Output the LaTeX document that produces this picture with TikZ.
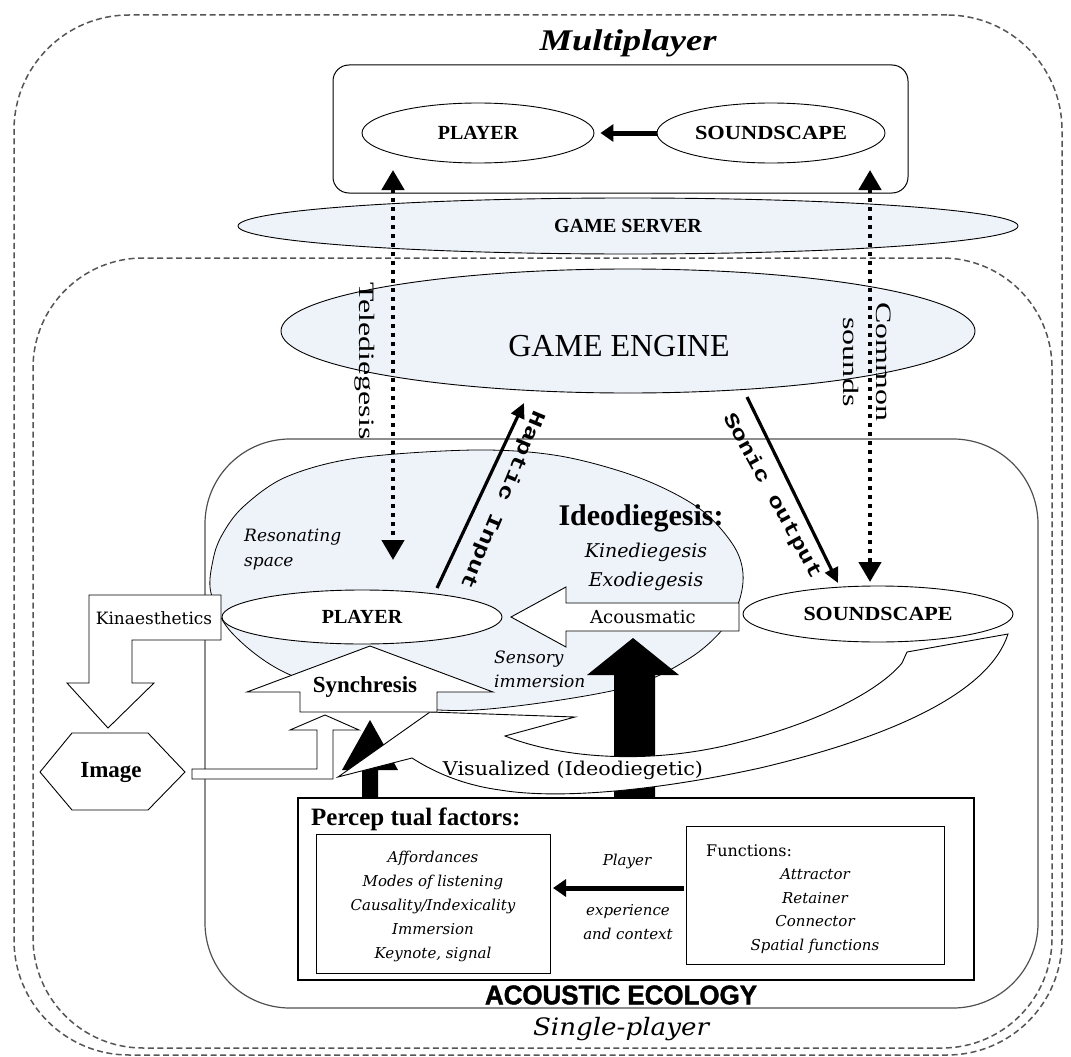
\documentclass[tikz,border=0pt]{standalone}
\usepackage{fontspec}
\usepackage{graphicx}
\setmainfont{Liberation Serif}
\newfontfamily\dvs{DejaVu Serif}
\newfontfamily\lmono{Liberation Mono}
\newfontfamily\lsans{Liberation Sans}[BoldFeatures={FakeBold=1.6}]
\usetikzlibrary{arrows.meta,shapes.geometric}
\definecolor{paleblue}{RGB}{238,243,250}
\definecolor{dashgray}{RGB}{85,85,85}
\definecolor{boxgray}{RGB}{80,80,80}
\newcommand\fsz[2]{\fontsize{#1}{#2}\selectfont}
\newcommand\hstretch[2]{\resizebox{#1}{\height}{#2}}
\begin{document}
\begin{tikzpicture}[x=1pt,y=-1pt,
  dashbox/.style={draw=dashgray,line width=1.5pt,dash pattern=on 6pt off 3.5pt,rectangle,inner sep=0pt},
  thinline/.style={draw=black,line width=0.9pt},
  ell/.style={ellipse,draw,line width=0.9pt,inner sep=0pt},
  plainbox/.style={rectangle,draw,line width=1pt,inner sep=0pt},
  dotarrow/.style={line width=4.5pt,dash pattern=on 4.5pt off 4.5pt,{Triangle[length=20pt,width=22pt]}-{Triangle[length=20pt,width=22pt]}},
  fatarrow/.style={line width=5pt,-{Triangle[length=13pt,width=17pt]}},
  ioarrow/.style={line width=3.2pt,-{Triangle[length=15pt,width=14pt]}},
  lbl/.style={inner sep=0pt,text=black}
]
\useasboundingbox (0,0) rectangle (1071,1057);

% dashed frames
\node[dashbox,rounded corners=115pt,minimum width=1048pt,minimum height=1040pt] (multi) at (538,535) {};
\node[dashbox,rounded corners=110pt,minimum width=1019pt,minimum height=790pt] (single) at (542.5,653) {};

\node[lbl,font=\fsz{30}{32}\bfseries\itshape] (multitxt) at (628,43) {\hstretch{177pt}{Multiplayer}};

% top box
\node[plainbox,rounded corners=16pt,minimum width=575pt,minimum height=128pt] (topbox) at (620.5,129) {};
\node[ell,fill=white,minimum width=232pt,minimum height=60pt,font=\fsz{20}{24}\bfseries] (tplayer) at (478,133) {PLAYER};
\node[ell,fill=white,minimum width=228pt,minimum height=60pt,font=\fsz{20}{24}\bfseries] (tsound) at (771,133) {\hstretch{152pt}{SOUNDSCAPE}};
\draw[fatarrow] (tsound.west) -- ([xshift=6pt]tplayer.east);

% game server / engine
\node[ell,fill=paleblue,minimum width=780pt,minimum height=56pt,font=\fsz{20}{24}\bfseries] (server) at (628,226) {GAME SERVER};
\node[ell,fill=paleblue,minimum width=694pt,minimum height=124pt] (engine) at (628,331) {};
\node[lbl,font=\fsz{32}{36}] (enginetxt) at (619,346) {GAME ENGINE};

% acoustic ecology box
\node[rectangle,draw=boxgray,line width=1.2pt,rounded corners=85pt,minimum width=833pt,minimum height=569pt] (acoustic) at (621.5,723.5) {};

% resonating space
\filldraw[fill=paleblue,draw=black,line width=0.8pt] plot[smooth cycle,tension=0.55] coordinates {
  (475,450) (560,456) (640,478) (700,509) (735,548) (743,582) (730,620) (690,658) (620,689)
  (475,710) (380,702) (286,673) (232,633) (211,593) (213,560) (222,535) (243,507) (286,477) (357,458)};

% big black arrow (partly hidden by the curved arrow)
\fill (614,798) -- (614,675) -- (587,675) -- (633,638) -- (679,675) -- (655,675) -- (655,798) -- cycle;
% small black arrow (partly hidden)
\fill (362,797) -- (362,770) -- (342,770) -- (370,720) -- (398,770) -- (378,770) -- (378,797) -- cycle;

% curved arrow (visualized)
\filldraw[thinline,fill=white] (1008,634)
  .. controls (990,690) and (900,735) .. (760,768)
  .. controls (660,790) and (560,800) .. (500,790)
  .. controls (470,786) and (440,776) .. (412,758)
  -- (338,777) -- (430,712) -- (575,717) -- (505,736)
  .. controls (560,758) and (650,766) .. (740,742)
  .. controls (820,722) and (880,690) .. (902,663)
  -- (907,652) -- cycle;
\node[lbl,font=\fsz{19}{22}\dvs] (vistxt) at (573,770) {\hstretch{260pt}{Visualized (Ideodiegetic)}};

% synchresis arrow
\filldraw[thinline,fill=white] (370,646) -- (493,692) -- (437,692) -- (437,712) -- (300,712) -- (300,692) -- (247,692) -- cycle;
\node[lbl,font=\fsz{23}{26}\bfseries] (synctxt) at (365,687) {Synchresis};

% acousmatic arrow
\filldraw[thinline,fill=white] (511,617) -- (566,587) -- (566,603) -- (739,603) -- (739,631) -- (566,631) -- (566,647) -- cycle;
\node[lbl,font=\fsz{18}{22}\dvs] (acoustxt) at (643,617) {Acousmatic};

% lower player / soundscape
\node[ell,fill=white,minimum width=280pt,minimum height=54pt,font=\fsz{20}{24}\bfseries] (player) at (362,617) {PLAYER};
\node[ell,fill=white,minimum width=270pt,minimum height=56pt,font=\fsz{20}{24}\bfseries] (sound) at (878,614) {\hstretch{149pt}{SOUNDSCAPE}};

% kinaesthetics arrow
\filldraw[thinline,fill=white] (89,595) -- (221,595) -- (221,640) -- (132,640) -- (132,683) -- (154,683) -- (108,728) -- (67,683) -- (89,683) -- cycle;
\node[lbl,font=\fsz{17}{20}\dvs] (kintxt) at (154,618) {Kinaesthetics};

% image hexagon
\filldraw[thinline,fill=white] (40,772) -- (72,733) -- (148,733) -- (185,772) -- (148,810) -- (72,810) -- cycle;
\node[lbl,font=\fsz{23}{26}\bfseries] (image) at (111,773) {Image};

% image to synchresis connector
\filldraw[thinline,fill=white] (192,769) -- (317,769) -- (317,730) -- (290,730) -- (325,715) -- (359,730) -- (333,730) -- (333,779) -- (192,779) -- cycle;

% texts in resonating space
\node[lbl,anchor=west,align=left,font=\fsz{17}{25}\dvs\itshape] (restxt) at (244,550) {Resonating\\space};
\node[lbl,font=\fsz{30}{32}\bfseries] (ideotxt) at (641,518) {Ideodiegesis:};
\node[lbl,align=center,font=\fsz{19}{29}\dvs\itshape] (kinetxt) at (646,567) {Kinediegesis\\Exodiegesis};
\node[lbl,anchor=west,align=left,font=\fsz{17}{24}\dvs\itshape] (senstxt) at (494,669) {Sensory\\immersion};

% dotted arrows
\coordinate (tdTop) at (393,170);
\coordinate (tdBot) at (393,560);
\coordinate (csTop) at (870,170);
\coordinate (csBot) at (870,582);
\draw[dotarrow] (tdTop) -- (tdBot);
\draw[dotarrow] (csTop) -- (csBot);
\node[lbl,rotate=-90,font=\fsz{22}{24}] (teletxt) at (365,361) {\hstretch{157pt}{Telediegesis}};
\node[lbl,rotate=-90,align=center,font=\fsz{22}{33}] (commontxt) at (867.5,362) {\hstretch{119pt}{Common}\\\hstretch{89pt}{sounds}};

% haptic input / sonic output
\coordinate (hapS) at (437,588);
\coordinate (hapE) at (524,403);
\coordinate (sonS) at (747,397);
\coordinate (sonE) at (838,583);
\draw[ioarrow] (hapS) -- (hapE);
\draw[ioarrow] (sonS) -- (sonE);
\node[lbl,rotate=-112.6,font=\fsz{20}{22}\lmono\bfseries] (haptxt) at (502,500) {\hstretch{192pt}{Haptic Input}};
\node[lbl,rotate=-61.2,font=\fsz{20}{22}\lmono\bfseries] (sontxt) at (772,496) {\hstretch{185pt}{Sonic output}};

% perceptual factors
\node[plainbox,line width=1.3pt,fill=white,minimum width=676pt,minimum height=182pt] (percbox) at (636,889) {};
\node[lbl,anchor=base west,font=\fsz{25}{28}\bfseries] (perctxt) at (311,825) {Percep tual factors:};
\node[plainbox,minimum width=234pt,minimum height=139pt] (leftbox) at (433,903.5) {};
\node[lbl,align=center,font=\fsz{15}{24}\dvs\itshape] (leftitems) at (433,906) {Affordances\\Modes of listening\\Causality/Indexicality\\Immersion\\Keynote, signal};
\node[plainbox,minimum width=258pt,minimum height=138pt] (funcbox) at (815,895) {};
\node[lbl,anchor=base west,font=\fsz{16}{20}\dvs] (functxt) at (706,856) {Functions:};
\node[lbl,align=center,font=\fsz{15}{23.5}\dvs\itshape] (funcitems) at (815,911) {Attractor\\Retainer\\Connector\\Spatial functions};
\coordinate (paS) at (684,888);
\coordinate (paE) at (553,888);
\draw[fatarrow] (paS) -- (paE);
\node[lbl,font=\fsz{15}{18}\dvs\itshape] (playtxt) at (627,861) {Player};
\node[lbl,align=center,font=\fsz{15}{24}\dvs\itshape] (exptxt) at (628,922) {experience\\and context};

% bottom labels
\node[lbl,font=\fsz{27}{30}\lsans\bfseries] (ecotxt) at (621,995) {\hstretch{272pt}{ACOUSTIC ECOLOGY}};
\node[lbl,font=\fsz{24}{26}\dvs\itshape] (singletxt) at (621,1029) {\hstretch{176pt}{Single-player}};
\end{tikzpicture}
\end{document}
